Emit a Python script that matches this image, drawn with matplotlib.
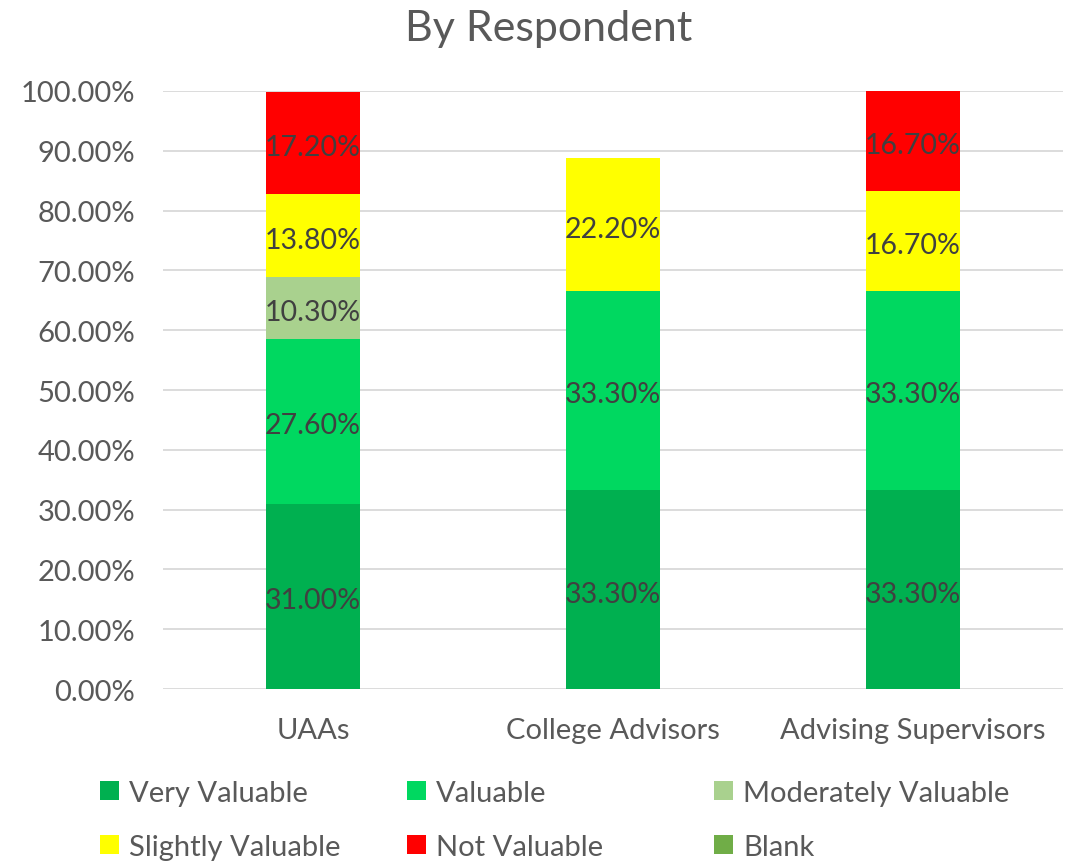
import numpy as np
import matplotlib
matplotlib.use("Agg")
import matplotlib.pyplot as plt
from matplotlib.patches import Patch
from matplotlib.ticker import PercentFormatter

categories = ["UAAs", "College Advisors", "Advising Supervisors"]
series = ["Very Valuable", "Valuable", "Moderately Valuable",
          "Slightly Valuable", "Not Valuable", "Blank"]
very_valuable = [31.0, 33.3, 33.3]
valuable = [27.6, 33.3, 33.3]
moderately_valuable = [10.3, 0.0, 0.0]
slightly_valuable = [13.8, 22.2, 16.7]
not_valuable = [17.2, 0.0, 16.7]
blank = [0.0, 0.0, 0.0]
colors = ["#00B050", "#00D860", "#A9D18E", "#FFFF00", "#FF0000", "#70AD47"]

plt.rcParams['font.family'] = ['Lato', 'DejaVu Sans']
tick_color = "#595959"

fig = plt.figure(figsize=(10.66, 8.62), dpi=100)
ax = fig.add_axes([0.1529, 0.1995, 0.8441, 0.6938])

values = [very_valuable, valuable, moderately_valuable,
          slightly_valuable, not_valuable, blank]
x = np.arange(len(categories))
bottom = np.zeros(len(categories))
for name, vals, c in zip(series, values, colors):
    vals = np.array(vals) / 100.0
    bars = ax.bar(x, vals, 0.313, bottom=bottom, color=c, label=name, zorder=2)
    labels = ["%.2f%%" % (v * 100) if v > 0 else "" for v in vals]
    ax.bar_label(bars, labels=labels, label_type='center', color="#404040",
                 fontsize=20.5, padding=-3)
    bottom += vals

ax.set_xlim(-0.5, 2.5)
ax.set_ylim(0, 1.0)
ax.set_yticks(np.arange(0, 1.01, 0.1))
ax.yaxis.set_major_formatter(PercentFormatter(1.0, decimals=2))
ax.set_xticks(x)
ax.set_xticklabels(categories)
ax.tick_params(axis='both', length=0, labelsize=21, labelcolor=tick_color)
ax.tick_params(axis='y', pad=20)
ax.tick_params(axis='x', pad=20)
ax.grid(axis='y', color="#D9D9D9", linewidth=1.3, zorder=0)
for s in ax.spines.values():
    s.set_visible(False)

fig.text(0.515, 0.966, "By Respondent", ha='center', va='center', fontsize=31, color=tick_color)

handles = [Patch(facecolor=c, edgecolor='none') for c in colors]
col_x = [0.094, 0.382, 0.670]
for j in range(3):
    fig.legend([handles[j], handles[j + 3]], [series[j], series[j + 3]],
               loc='upper left', bbox_to_anchor=(col_x[j], 0.094), frameon=False,
               fontsize=21, labelcolor=tick_color, handlelength=0.65, handleheight=0.65,
               handletextpad=0.35, labelspacing=0.95, borderaxespad=0, borderpad=0)

fig.savefig("out.png", dpi=100)
